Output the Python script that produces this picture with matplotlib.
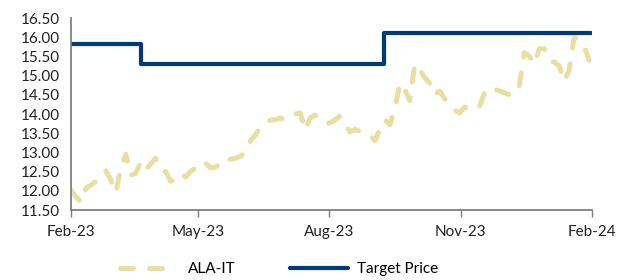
import matplotlib
matplotlib.use('Agg')
import matplotlib.pyplot as plt
import matplotlib.dates as mdates
import pandas as pd

# ALA-IT share price, roughly every 3.5 days, Feb-23 .. Jan-24
price = [12.02, 11.85, 11.70, 12.07, 12.15, 12.25, 12.30, 12.52, 12.28, 11.95,
         12.60, 12.95, 12.40, 12.46, 12.75, 12.55, 12.70, 12.85, 12.55, 12.50,
         12.25, 12.30, 12.45, 12.36, 12.50, 12.60, 12.75, 12.72, 12.60, 12.62,
         12.70, 12.85, 12.82, 12.85, 12.90, 13.00, 13.30, 13.45, 13.65, 13.75,
         13.84, 13.85, 13.90, 13.84, 13.92, 14.00, 14.03, 13.58, 13.90, 13.97,
         13.88, 13.75, 13.77, 13.85, 13.95, 13.75, 13.53, 13.60, 13.55, 13.50,
         13.45, 13.30, 13.60, 13.85, 13.72, 14.15, 14.80, 14.65, 14.35, 15.30,
         15.15, 14.95, 14.80, 14.50, 14.60, 14.40, 14.22, 14.10, 14.03, 14.18,
         14.10, 14.15, 14.20, 14.55, 14.70, 14.65, 14.60, 14.55, 14.50, 14.50,
         14.75, 15.60, 15.50, 15.30, 15.70, 15.70, 15.40, 15.35, 15.25, 14.85,
         15.15, 16.00, 15.95, 15.75, 15.40]
price_dates = pd.date_range('2023-02-01', '2024-01-30', periods=len(price))

target_dates = pd.to_datetime(['2023-02-01', '2023-03-22', '2023-09-08', '2024-01-31'])
target = [15.82, 15.30, 16.12, 16.12]

tick_dates = pd.to_datetime(['2023-02-01', '2023-05-01', '2023-08-01', '2023-11-01', '2024-02-01'])

plt.rcParams['font.family'] = ['Lato', 'DejaVu Sans']

fig = plt.figure(figsize=(6.25, 2.8), dpi=100)
ax = fig.add_axes([0.1136, 0.25, 0.8336, 0.6857])

ax.plot(price_dates, price, color='#E9DFA2', lw=3.6, dashes=(2.6, 3.2),
        dash_capstyle='round', solid_capstyle='round', label='ALA-IT')
ax.plot(target_dates, target, color='#003A78', lw=3.0, drawstyle='steps-post',
        solid_capstyle='round', label='Target Price')

ax.set_ylim(11.5, 16.5)
ax.set_yticks([11.5 + 0.5 * i for i in range(11)])
ax.yaxis.set_major_formatter(matplotlib.ticker.FormatStrFormatter('%.2f'))
ax.set_xlim(pd.Timestamp('2023-02-01'), pd.Timestamp('2024-02-01'))
ax.set_xticks(tick_dates)
ax.xaxis.set_major_formatter(mdates.DateFormatter('%b-%y'))

for s in ['top', 'right']:
    ax.spines[s].set_visible(False)
for s in ['left', 'bottom']:
    ax.spines[s].set_color('#808080')
    ax.spines[s].set_linewidth(1.3)
ax.tick_params(axis='y', length=0, labelsize=11, colors='#222222', pad=8)
ax.tick_params(axis='x', length=5, width=1, color='#808080', labelsize=11,
               labelcolor='#222222', pad=6)

ax.legend(loc='upper center', bbox_to_anchor=(0.40, -0.2), ncol=2, frameon=False,
          fontsize=11, handlelength=3.8, columnspacing=3.6, handletextpad=0.6)

fig.savefig('out.png', dpi=100)
